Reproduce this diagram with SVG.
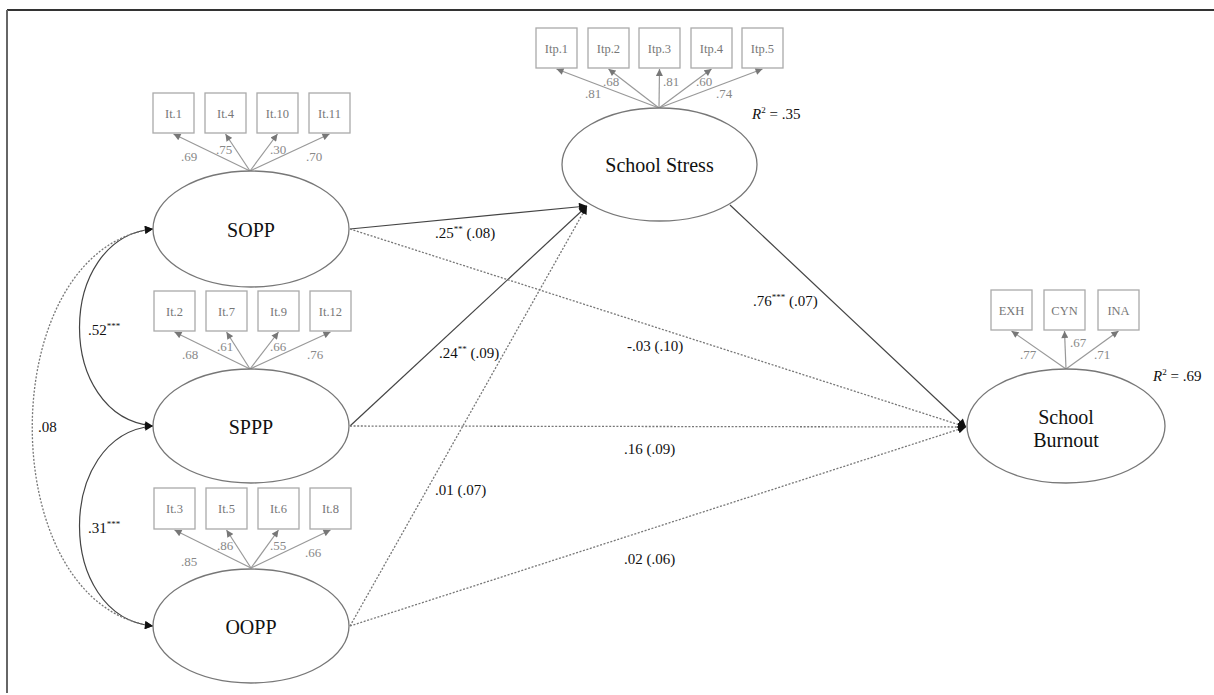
<svg xmlns="http://www.w3.org/2000/svg" width="1214" height="695" viewBox="0 0 1214 695">
<defs>
<marker id="ah" viewBox="0 0 10 10" refX="10" refY="5" markerWidth="9" markerHeight="8" markerUnits="userSpaceOnUse" orient="auto"><path d="M0,0 L10,5 L0,10 z" fill="#111"/></marker>
<marker id="ahs" viewBox="0 0 10 10" refX="10" refY="5" markerWidth="9" markerHeight="8" markerUnits="userSpaceOnUse" orient="auto-start-reverse"><path d="M0,0 L10,5 L0,10 z" fill="#111"/></marker>
<marker id="gh" viewBox="0 0 10 10" refX="10" refY="5" markerWidth="8" markerHeight="7" markerUnits="userSpaceOnUse" orient="auto"><path d="M0,0 L10,5 L0,10 z" fill="#777"/></marker>
</defs>
<style>
text{font-family:"Liberation Serif","Times New Roman",serif}
.lat{fill:#fff;stroke:#777;stroke-width:1.3}
.latt{font-size:20px;fill:#111;text-anchor:middle}
.box{fill:#fff;stroke:#aaa;stroke-width:1.3}
.boxt{font-size:12.5px;fill:#777;text-anchor:middle}
.ld{stroke:#999;stroke-width:1.2;fill:none;marker-end:url(#gh)}
.ldt{font-size:13px;fill:#888;text-anchor:middle}
.sol{stroke:#444;stroke-width:1.2;fill:none;marker-end:url(#ah)}
.dot{stroke:#777;stroke-width:1.3;fill:none;stroke-dasharray:2,1.6;marker-end:url(#ah)}
.pt{font-size:15px;fill:#111}
.sup{font-size:9px}
.r2{font-size:15px;fill:#111}
</style>
<g id="frame"><line x1="7" y1="10" x2="1214" y2="10" stroke="#333" stroke-width="2"/><line x1="7" y1="10" x2="7" y2="693" stroke="#666" stroke-width="2"/></g>

<g id="connectors">
<path class="sol" d="M350,229 L587,206"/>
<path class="sol" d="M350,426 L587,206"/>
<path class="dot" d="M350,626 L587,206"/>
<path class="dot" d="M350,229 L966,427"/>
<path class="dot" d="M350,426 L966,427"/>
<path class="dot" d="M350,626 L966,427"/>
<path class="sol" d="M730,205 L966,427"/>
<path d="M153,229 C55,238 55,417 153,426" stroke="#444" stroke-width="1.2" fill="none" marker-start="url(#ahs)" marker-end="url(#ah)"/>
<path d="M153,426 C55,435 55,617 153,626" stroke="#444" stroke-width="1.2" fill="none" marker-start="url(#ahs)" marker-end="url(#ah)"/>
<path d="M153,229 C-8,250 -8,605 153,626" stroke="#777" stroke-width="1.3" stroke-dasharray="2,1.6" fill="none" marker-start="url(#ahs)" marker-end="url(#ah)"/>
<text class="pt" x="435" y="238">.25<tspan class="sup" dy="-6">**</tspan><tspan dy="6"> (.08)</tspan></text>
<text class="pt" x="439" y="358">.24<tspan class="sup" dy="-6">**</tspan><tspan dy="6"> (.09)</tspan></text>
<text class="pt" x="435" y="495">.01 (.07)</text>
<text class="pt" x="624" y="454">.16 (.09)</text>
<text class="pt" x="624" y="564">.02 (.06)</text>
<text class="pt" x="627" y="351">-.03 (.10)</text>
<text class="pt" x="753" y="306">.76<tspan class="sup" dy="-6">***</tspan><tspan dy="6"> (.07)</tspan></text>
<text class="pt" x="88" y="335">.52<tspan class="sup" dy="-6">***</tspan></text>
<text class="pt" x="38" y="432">.08</text>
<text class="pt" x="88" y="533">.31<tspan class="sup" dy="-6">***</tspan></text>
</g>

<g id="SOPP">
<path class="ld" d="M250,171 L173.5,134"/><path class="ld" d="M250,171 L225.5,134"/><path class="ld" d="M250,171 L277.5,134"/><path class="ld" d="M250,171 L329.5,134"/>
<rect class="box" x="153" y="93" width="41" height="40"/><text class="boxt" x="173.5" y="117.5">It.1</text>
<rect class="box" x="205" y="93" width="41" height="40"/><text class="boxt" x="225.5" y="117.5">It.4</text>
<rect class="box" x="257" y="93" width="41" height="40"/><text class="boxt" x="277.5" y="117.5">It.10</text>
<rect class="box" x="309" y="93" width="41" height="40"/><text class="boxt" x="329.5" y="117.5">It.11</text>
<text class="ldt" x="189" y="161">.69</text><text class="ldt" x="224" y="154">.75</text><text class="ldt" x="278" y="154">.30</text><text class="ldt" x="314" y="161">.70</text>
<ellipse class="lat" cx="251" cy="229" rx="98" ry="58"/>
<text class="latt" x="251" y="237">SOPP</text>
</g>

<g id="SPPP">
<path class="ld" d="M250,369 L174.5,332"/><path class="ld" d="M250,369 L226.5,332"/><path class="ld" d="M250,369 L278.5,332"/><path class="ld" d="M250,369 L330.5,332"/>
<rect class="box" x="154" y="291" width="41" height="40"/><text class="boxt" x="174.5" y="315.5">It.2</text>
<rect class="box" x="206" y="291" width="41" height="40"/><text class="boxt" x="226.5" y="315.5">It.7</text>
<rect class="box" x="258" y="291" width="41" height="40"/><text class="boxt" x="278.5" y="315.5">It.9</text>
<rect class="box" x="310" y="291" width="41" height="40"/><text class="boxt" x="330.5" y="315.5">It.12</text>
<text class="ldt" x="190" y="359">.68</text><text class="ldt" x="225" y="351">.61</text><text class="ldt" x="278" y="351">.66</text><text class="ldt" x="315" y="359">.76</text>
<ellipse class="lat" cx="251" cy="426" rx="98" ry="57"/>
<text class="latt" x="251" y="434">SPPP</text>
</g>

<g id="OOPP">
<path class="ld" d="M251,568 L174.5,530"/><path class="ld" d="M251,568 L226.5,530"/><path class="ld" d="M251,568 L278.5,530"/><path class="ld" d="M251,568 L330.5,530"/>
<rect class="box" x="154" y="488" width="41" height="41"/><text class="boxt" x="174.5" y="513">It.3</text>
<rect class="box" x="206" y="488" width="41" height="41"/><text class="boxt" x="226.5" y="513">It.5</text>
<rect class="box" x="258" y="488" width="41" height="41"/><text class="boxt" x="278.5" y="513">It.6</text>
<rect class="box" x="310" y="488" width="41" height="41"/><text class="boxt" x="330.5" y="513">It.8</text>
<text class="ldt" x="189" y="566">.85</text><text class="ldt" x="225" y="550">.86</text><text class="ldt" x="278" y="550">.55</text><text class="ldt" x="313" y="557">.66</text>
<ellipse class="lat" cx="251" cy="626" rx="98" ry="57"/>
<text class="latt" x="251" y="634">OOPP</text>
</g>

<g id="SchoolStress">
<path class="ld" d="M659,108 L556.5,69"/><path class="ld" d="M659,108 L608.5,69"/><path class="ld" d="M659,108 L659.5,69"/><path class="ld" d="M659,108 L711.5,69"/><path class="ld" d="M659,108 L762.5,69"/>
<rect class="box" x="536" y="28" width="41" height="40"/><text class="boxt" x="556.5" y="52.5">Itp.1</text>
<rect class="box" x="588" y="28" width="41" height="40"/><text class="boxt" x="608.5" y="52.5">Itp.2</text>
<rect class="box" x="639" y="28" width="41" height="40"/><text class="boxt" x="659.5" y="52.5">Itp.3</text>
<rect class="box" x="691" y="28" width="41" height="40"/><text class="boxt" x="711.5" y="52.5">Itp.4</text>
<rect class="box" x="742" y="28" width="41" height="40"/><text class="boxt" x="762.5" y="52.5">Itp.5</text>
<text class="ldt" x="593" y="98">.81</text><text class="ldt" x="611" y="86">.68</text><text class="ldt" x="671" y="86">.81</text><text class="ldt" x="704" y="86">.60</text><text class="ldt" x="724" y="98">.74</text>
<ellipse class="lat" cx="659.5" cy="164.5" rx="97.5" ry="56.5"/>
<text class="latt" x="659.5" y="172">School Stress</text>
<text class="r2" x="752" y="119"><tspan font-style="italic">R</tspan><tspan style="font-size:9px" dy="-6">2</tspan><tspan dy="6"> = .35</tspan></text>
</g>

<g id="SchoolBurnout">
<path class="ld" d="M1066,369 L1011.5,331"/><path class="ld" d="M1066,369 L1064.5,331"/><path class="ld" d="M1066,369 L1118.5,331"/>
<rect class="box" x="991" y="290" width="41" height="40"/><text class="boxt" x="1011.5" y="314.5">EXH</text>
<rect class="box" x="1044" y="290" width="41" height="40"/><text class="boxt" x="1064.5" y="314.5">CYN</text>
<rect class="box" x="1098" y="290" width="41" height="40"/><text class="boxt" x="1118.5" y="314.5">INA</text>
<text class="ldt" x="1028" y="359">.77</text><text class="ldt" x="1078" y="347">.67</text><text class="ldt" x="1102" y="359">.71</text>
<ellipse class="lat" cx="1066" cy="426" rx="99" ry="57"/>
<text class="latt" x="1066" y="424">School</text>
<text class="latt" x="1066" y="447">Burnout</text>
<text class="r2" x="1153" y="381"><tspan font-style="italic">R</tspan><tspan style="font-size:9px" dy="-6">2</tspan><tspan dy="6"> = .69</tspan></text>
</g>
</svg>
